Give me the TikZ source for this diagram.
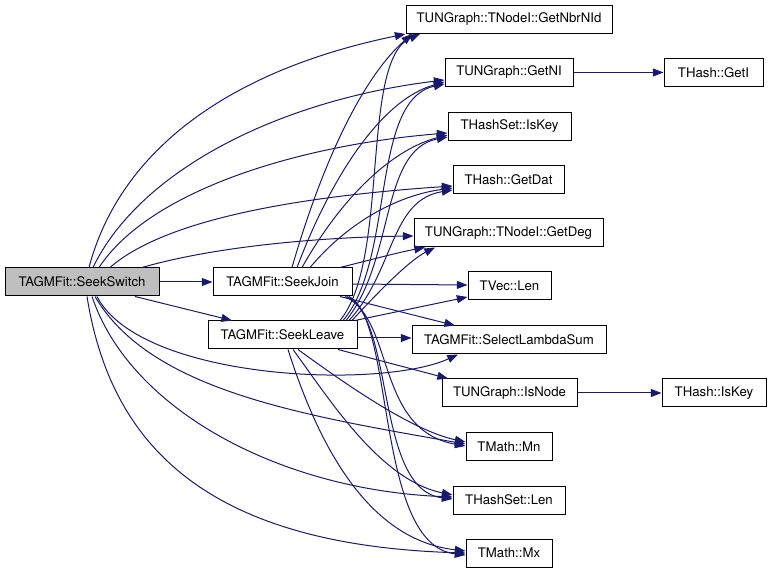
\documentclass[tikz,border=0pt]{standalone}
\usepackage{fontspec}
\setmainfont{TeX Gyre Heros}
\usetikzlibrary{arrows.meta}
\definecolor{navy}{RGB}{25,25,112}
\definecolor{rootgrey}{RGB}{191,191,191}
\begin{document}
\begin{tikzpicture}[x=0.75pt,y=-0.75pt,
  box/.style={draw=black, line width=0.75pt, rectangle, inner sep=0pt, minimum height=21pt, font=\fontsize{9.9}{12}\selectfont},
  e/.style={draw=navy, line width=0.75pt, -{Triangle[length=8pt,width=6pt]}}]
\useasboundingbox (0,0) rectangle (771,573);
\node[box, fill=rootgrey, minimum width=154*0.75pt] (sw) at (82,282) {TAGMFit::SeekSwitch};
\node[box, minimum width=139*0.75pt] (join) at (282.5,282) {TAGMFit::SeekJoin};
\node[box, minimum width=149*0.75pt] (leave) at (282.5,335) {TAGMFit::SeekLeave};
\node[box, minimum width=206*0.75pt] (nbr) at (509,19.5) {TUNGraph::TNodeI::GetNbrNId};
\node[box, minimum width=128*0.75pt] (getni) at (509,72.5) {TUNGraph::GetNI};
\node[box, minimum width=123*0.75pt] (hsiskey) at (509.5,126.5) {THashSet::IsKey};
\node[box, minimum width=111*0.75pt] (getdat) at (508.5,179.5) {THash::GetDat};
\node[box, minimum width=189*0.75pt] (getdeg) at (508.5,233) {TUNGraph::TNodeI::GetDeg};
\node[box, minimum width=83*0.75pt] (vlen) at (509.5,286) {TVec::Len};
\node[box, minimum width=194*0.75pt] (sls) at (509,340) {TAGMFit::SelectLambdaSum};
\node[box, minimum width=135*0.75pt] (isnode) at (509.5,393) {TUNGraph::IsNode};
\node[box, minimum width=86*0.75pt] (mn) at (509,446.5) {TMath::Mn};
\node[box, minimum width=112*0.75pt] (hslen) at (509,500) {THashSet::Len};
\node[box, minimum width=86*0.75pt] (mx) at (509,553) {TMath::Mx};
\node[box, minimum width=99*0.75pt] (geti) at (713.5,72.5) {THash::GetI};
\node[box, minimum width=104*0.75pt] (hkey) at (714,393) {THash::IsKey};
% SeekSwitch
\draw[e] (89,0 |- sw.north) .. controls (120,150) and (230,70) .. (nbr.south west);
\draw[e] (93,0 |- sw.north) .. controls (140,170) and (280,100) .. (getni.west |- 0,80);
\draw[e] (99,0 |- sw.north) .. controls (150,190) and (300,145) .. (hsiskey.west |- 0,133);
\draw[e] (110,0 |- sw.north) .. controls (170,215) and (320,195) .. (getdat.west |- 0,186);
\draw[e] (142,0 |- sw.north) .. controls (220,245) and (330,237) .. (getdeg.west |- 0,236);
\draw[e] (sw) -- (join);
\draw[e] (135,0 |- sw.south) -- (232,0 |- leave.north);
\draw[e] (97,0 |- sw.south) .. controls (140,380) and (380,390) .. (458,0 |- sls.south);
\draw[e] (95,0 |- sw.south) .. controls (150,390) and (300,415) .. (mn.west |- 0,444);
\draw[e] (92,0 |- sw.south) .. controls (130,410) and (280,490) .. (hslen.west |- 0,497);
\draw[e] (87,0 |- sw.south) .. controls (110,440) and (200,545) .. (mx.west |- 0,553);
% SeekJoin
\draw[e] (292,0 |- join.north) .. controls (320,170) and (360,80) .. (412,0 |- nbr.south);
\draw[e] (297,0 |- join.north) .. controls (330,180) and (380,100) .. (getni.west |- 0,82);
\draw[e] (302,0 |- join.north) .. controls (340,200) and (390,150) .. (hsiskey.west |- 0,135);
\draw[e] (310,0 |- join.north) .. controls (350,220) and (400,195) .. (getdat.west |- 0,188);
\draw[e] (340,0 |- join.north) .. controls (370,260) and (400,252) .. (425,0 |- getdeg.south);
\draw[e] (join.east |- 0,284) -- (vlen.west |- 0,285);
\draw[e] (340,0 |- join.south) -- (455,0 |- sls.north);
\draw[e] (345,0 |- join.south) .. controls (395,320) and (375,430) .. (mn.west |- 0,446);
\draw[e] (347,0 |- join.south) .. controls (395,320) and (375,490) .. (hslen.west |- 0,499);
\draw[e] (349,0 |- join.south) .. controls (395,320) and (375,545) .. (mx.west |- 0,555);
% SeekLeave
\draw[e] (340,0 |- leave.north) .. controls (390,260) and (360,60) .. (420,0 |- nbr.south);
\draw[e] (343,0 |- leave.north) .. controls (395,260) and (370,100) .. (getni.west |- 0,84);
\draw[e] (346,0 |- leave.north) .. controls (395,260) and (380,150) .. (hsiskey.west |- 0,137);
\draw[e] (349,0 |- leave.north) .. controls (395,270) and (390,200) .. (getdat.west |- 0,190);
\draw[e] (352,0 |- leave.north) .. controls (380,290) and (410,260) .. (435,0 |- getdeg.south);
\draw[e] (355,0 |- leave.north) -- (vlen.west |- 0,297);
\draw[e] (leave.east |- 0,338) -- (sls.west |- 0,338);
\draw[e] (338,0 |- leave.south) -- (448,0 |- isnode.north);
\draw[e] (298,0 |- leave.south) .. controls (340,380) and (410,430) .. (mn.west |- 0,442);
\draw[e] (293,0 |- leave.south) .. controls (330,400) and (380,480) .. (hslen.west |- 0,495);
\draw[e] (288,0 |- leave.south) .. controls (320,450) and (370,540) .. (mx.west |- 0,551);
% others
\draw[e] (getni) -- (geti);
\draw[e] (isnode) -- (hkey);
\end{tikzpicture}
\end{document}
